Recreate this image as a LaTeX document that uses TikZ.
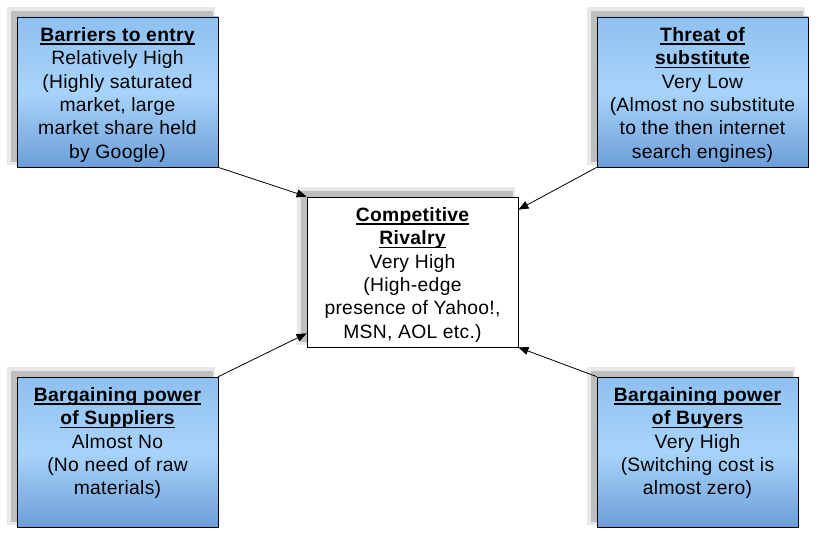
\documentclass[tikz,border=0pt]{standalone}
\usepackage{fontspec}
\setmainfont{Liberation Sans}[LetterSpace=1.5]
\usetikzlibrary{arrows.meta,calc}
\definecolor{bluetop}{RGB}{142,192,240}
\definecolor{bluemid}{RGB}{168,212,250}
\definecolor{bluebot}{RGB}{108,158,216}
\definecolor{shadowdark}{RGB}{190,190,190}
\definecolor{shadowlight}{RGB}{232,232,232}
\newcommand\hdr[1]{\setbox0\hbox{\bfseries #1}\rlap{\rule[-3.3pt]{\wd0}{1.5pt}}\box0}
\newcommand\boxshadow[4]{%
  \fill[shadowlight] (#1-10,#2-10) rectangle (#3-3,#4-2);
  \fill[shadowdark] (#1-6,#2-6) rectangle (#3-5,#4-5);}
\tikzset{
  panel/.style={draw=black, line width=0.8pt, inner sep=0pt, minimum height=150pt},
  bluebox/.style={panel, top color=bluetop, bottom color=bluebot, middle color=bluemid},
  whitebox/.style={panel, fill=white},
  txt/.style={align=center, inner sep=0pt, anchor=north, font=\fontsize{19.3}{23.3}\selectfont},
  arr/.style={line width=0.8pt, -{Triangle[length=10pt,width=8pt]}}
}
\begin{document}
\begin{tikzpicture}[x=1pt,y=-1pt]
\useasboundingbox (0,0) rectangle (818,540);
\fill[white] (0,0) rectangle (818,540);
% shadows
\boxshadow{17}{17}{218}{167}
\boxshadow{597}{17}{808}{167}
\boxshadow{307}{197}{518}{347}
\boxshadow{17}{377}{218}{527}
\boxshadow{597}{377}{798}{527}
% boxes
\node[bluebox, minimum width=201pt] (tl) at (117.5,92) {};
\node[bluebox, minimum width=211pt] (tr) at (702.5,92) {};
\node[whitebox, minimum width=211pt] (c) at (412.5,272) {};
\node[bluebox, minimum width=201pt] (bl) at (117.5,452) {};
\node[bluebox, minimum width=201pt] (br) at (697.5,452) {};
% texts
\node[txt] (tlt) at ($(tl.north)+(0,8.5)$) {\strut\hdr{Barriers to entry}\\Relatively High\\(Highly saturated\\market, large\\market share held\\by Google)};
\node[txt] (trt) at ($(tr.north)+(0,8.5)$) {\strut\hdr{Threat of}\\\hdr{substitute}\\Very Low\\(Almost no substitute\\to the then internet\\search engines)};
\node[txt] (ct) at ($(c.north)+(0,8.5)$) {\strut\hdr{Competitive}\\\hdr{Rivalry}\\Very High\\(High-edge\\presence of Yahoo!,\\MSN, AOL etc.)};
\node[txt] (blt) at ($(bl.north)+(0,8.5)$) {\strut\hdr{Bargaining power}\\\hdr{of Suppliers}\\Almost No\\(No need of raw\\materials)};
\node[txt] (brt) at ($(br.north)+(0,8.5)$) {\strut\hdr{Bargaining power}\\\hdr{of Buyers}\\Very High\\(Switching cost is\\almost zero)};
% connectors
\draw[arr] (tl.south east) -- (c.north west);
\draw[arr] (tr.south west) -- ([yshift=-13pt]c.north east);
\draw[arr] (bl.north east) -- ([yshift=14pt]c.south west);
\draw[arr] (br.north west) -- (c.south east);
\end{tikzpicture}
\end{document}
